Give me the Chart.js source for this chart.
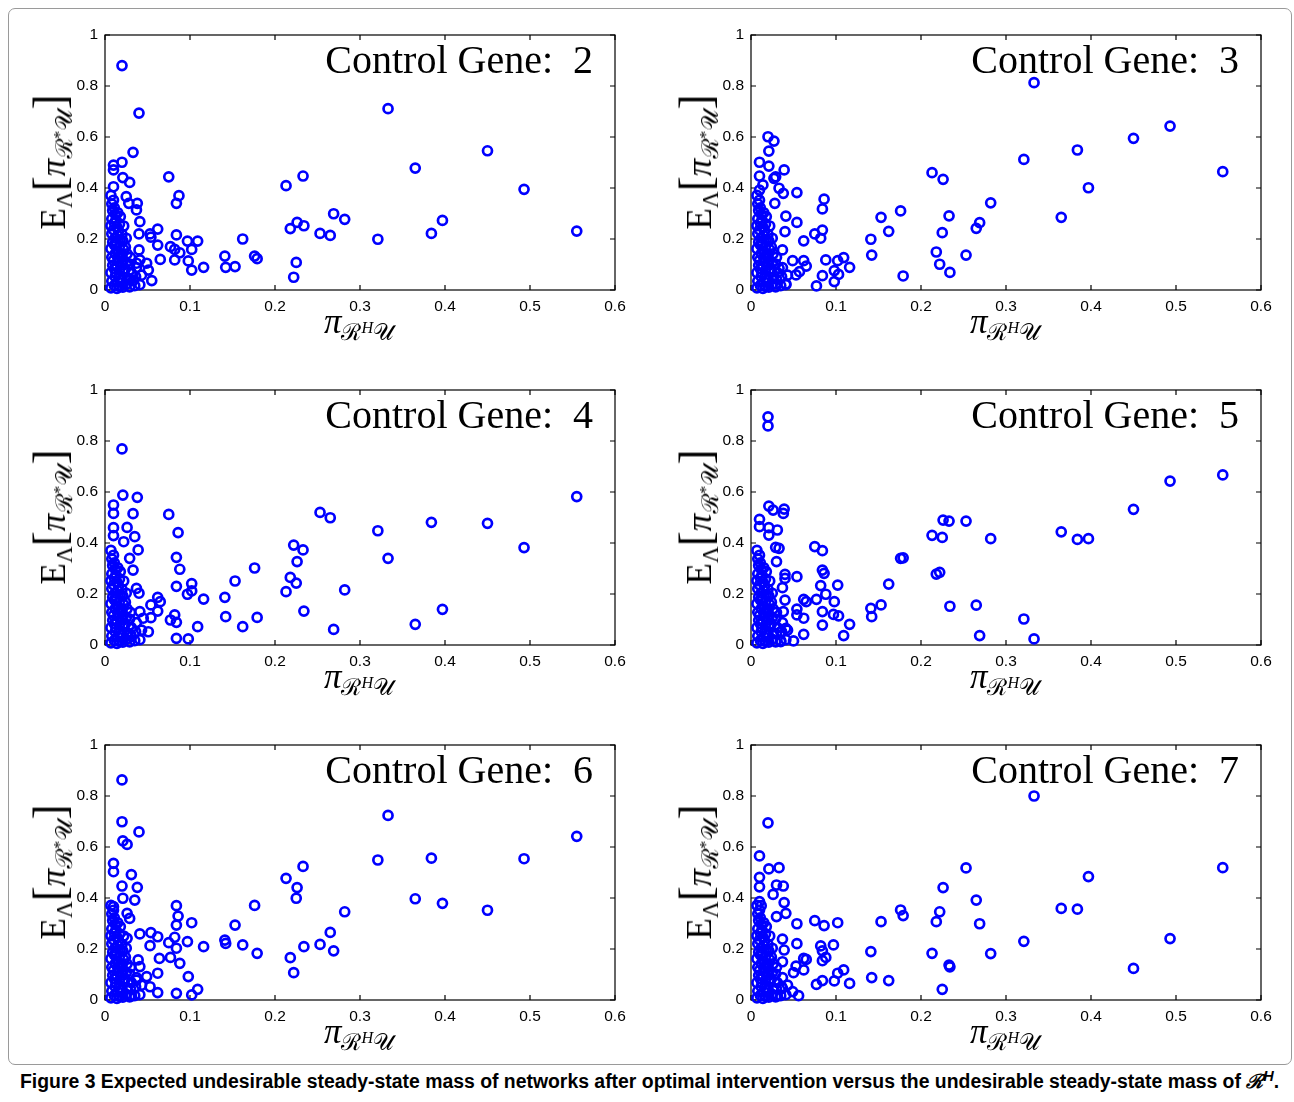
<!DOCTYPE html>
<html>
<head>
<meta charset="utf-8">
<script src="https://cdn.jsdelivr.net/npm/chart.js@4.4.0/dist/chart.umd.min.js"></script>
<style>
  body { margin: 0; background: #fff; width: 1294px; height: 1102px; position: relative; overflow: hidden; }
  .frame { position: absolute; left: 8px; top: 8px; width: 1282px; height: 1055px; border: 1px solid #9a9a9a; border-radius: 7px; }
  canvas { position: absolute; }
  .ttl { position: absolute; font-family: "Liberation Serif", serif; font-size: 40px; line-height: 40px; text-align: right; color: #000; white-space: pre; }
  .ylab, .xlab { position: absolute; font-family: "Liberation Serif", "DejaVu Serif", serif; line-height: 44px; color: #000; white-space: nowrap; }
  .ylab { font-size: 35px; transform: translate(-50%, -50%) rotate(-90deg); }
  .xlab { font-size: 35px; transform: translate(-50%, 0); }
  .sb { font-size: 0.66em; position: relative; top: 0.3em; }
  .sp { font-size: 0.7em; position: relative; top: -0.45em; }
  .br { font-size: 1.3em; }
  .cap { position: absolute; left: 20px; top: 1067px; font-family: "Liberation Sans", Arial, sans-serif; font-weight: bold; font-size: 19.4px; color: #000; white-space: nowrap; }
</style>
</head>
<body>
<div class="frame"></div>
<div class="cap">Figure 3 Expected undesirable steady-state mass of networks after optimal intervention versus the undesirable steady-state mass of <i>ℛ<span class="sp" style="font-size:0.75em">H</span></i>.</div>
<script>
// tick labels
const xTickLabels = ['0', '0.1', '0.2', '0.3', '0.4', '0.5', '0.6'];
const yTickLabels = ['0', '0.2', '0.4', '0.6', '0.8', '1'];
const genes = [2, 3, 4, 5, 6, 7];

// networks with larger original mass (same x in every panel)
const farX = [0.555, 0.493, 0.450, 0.397, 0.384, 0.365, 0.333, 0.321, 0.282, 0.269, 0.265, 0.253,
  0.233, 0.234, 0.226, 0.225, 0.222, 0.218, 0.213, 0.179, 0.176, 0.162, 0.153, 0.141, 0.142];
const far2 = [0.231, 0.395, 0.546, 0.273, 0.222, 0.478, 0.711, 0.199, 0.277, 0.299, 0.214, 0.222,
  0.447, 0.252, 0.265, 0.108, 0.050, 0.241, 0.409, 0.123, 0.133, 0.200, 0.092, 0.133, 0.089];
const far3 = [0.464, 0.643, 0.595, 0.401, 0.549, 0.285, 0.813, 0.512, 0.342, 0.264, 0.242, 0.137,
  0.291, 0.069, 0.434, 0.225, 0.101, 0.149, 0.460, 0.055, 0.310, 0.230, 0.285, 0.199, 0.137];
const far4 = [0.582, 0.382, 0.477, 0.140, 0.481, 0.081, 0.340, 0.448, 0.216, 0.061, 0.499, 0.520,
  0.373, 0.133, 0.327, 0.243, 0.392, 0.265, 0.209, 0.108, 0.302, 0.072, 0.251, 0.187, 0.111];
const far5 = [0.667, 0.643, 0.532, 0.417, 0.414, 0.444, 0.024, 0.102, 0.417, 0.037, 0.156, 0.486,
  0.486, 0.152, 0.490, 0.422, 0.285, 0.278, 0.430, 0.342, 0.340, 0.239, 0.157, 0.144, 0.111];
const far6 = [0.642, 0.554, 0.352, 0.379, 0.556, 0.397, 0.724, 0.549, 0.346, 0.193, 0.265, 0.218,
  0.524, 0.209, 0.441, 0.399, 0.107, 0.166, 0.477, 0.183, 0.371, 0.216, 0.294, 0.235, 0.222];
const far7 = [0.519, 0.241, 0.124, 0.484, 0.356, 0.359, 0.800, 0.230, 0.182, 0.299, 0.392, 0.518,
  0.137, 0.130, 0.441, 0.042, 0.346, 0.307, 0.183, 0.331, 0.353, 0.076, 0.307, 0.190, 0.088];

// dense core of networks with small mass (x, y)
const coreX = [0.007, 0.008, 0.007, 0.009, 0.008, 0.007, 0.009, 0.008, 0.007, 0.008, 0.009, 0.008, 0.007,
  0.011, 0.012, 0.011, 0.010, 0.012, 0.011, 0.012, 0.010, 0.011, 0.012, 0.011, 0.010,
  0.014, 0.015, 0.013, 0.014, 0.015, 0.014, 0.013, 0.015, 0.014, 0.013, 0.015,
  0.017, 0.018, 0.017, 0.016, 0.018, 0.017, 0.018, 0.016, 0.017, 0.018,
  0.021, 0.020, 0.022, 0.021, 0.020, 0.022, 0.021, 0.020, 0.022,
  0.025, 0.026, 0.024, 0.025, 0.026, 0.024, 0.025,
  0.029, 0.030, 0.031, 0.029, 0.030,
  0.035, 0.036, 0.037,
  0.041, 0.043];
const coreY = [0.008, 0.035, 0.068, 0.097, 0.128, 0.162, 0.188, 0.221, 0.252, 0.279, 0.312, 0.338, 0.371,
  0.018, 0.052, 0.083, 0.116, 0.143, 0.177, 0.204, 0.236, 0.263, 0.297, 0.322, 0.352,
  0.006, 0.033, 0.066, 0.094, 0.127, 0.153, 0.186, 0.213, 0.247, 0.274, 0.303,
  0.014, 0.047, 0.078, 0.112, 0.138, 0.171, 0.198, 0.232, 0.258, 0.288,
  0.011, 0.041, 0.072, 0.098, 0.131, 0.158, 0.193, 0.218, 0.251,
  0.022, 0.048, 0.083, 0.107, 0.142, 0.168, 0.203,
  0.012, 0.043, 0.068, 0.102, 0.128,
  0.017, 0.052, 0.088,
  0.021, 0.058];

// remaining small-mass networks, per control gene: [x, y]
const near2 = [[0.020,0.880],[0.040,0.694],[0.033,0.540],[0.020,0.501],[0.010,0.490],[0.010,0.471],[0.021,0.441],
  [0.029,0.422],[0.010,0.405],[0.075,0.444],[0.087,0.370],[0.084,0.340],[0.038,0.340],[0.037,0.314],[0.041,0.268],
  [0.040,0.220],[0.062,0.239],[0.053,0.220],[0.054,0.207],[0.084,0.216],[0.097,0.192],[0.109,0.192],[0.102,0.159],
  [0.062,0.176],[0.077,0.170],[0.082,0.159],[0.088,0.146],[0.082,0.118],[0.098,0.114],[0.065,0.120],[0.116,0.089],
  [0.102,0.078],[0.055,0.037],[0.051,0.078],[0.040,0.157],[0.037,0.105],[0.033,0.037],[0.029,0.039],[0.025,0.366],
  [0.028,0.340],[0.041,0.118],[0.049,0.105]];
const near3 = [[0.020,0.601],[0.027,0.584],[0.021,0.545],[0.010,0.501],[0.021,0.486],[0.039,0.471],[0.010,0.447],
  [0.029,0.444],[0.027,0.438],[0.014,0.412],[0.033,0.399],[0.038,0.379],[0.054,0.382],[0.010,0.392],[0.028,0.340],
  [0.086,0.356],[0.084,0.318],[0.041,0.290],[0.054,0.265],[0.040,0.229],[0.084,0.235],[0.075,0.220],[0.082,0.203],
  [0.062,0.193],[0.037,0.157],[0.062,0.115],[0.065,0.094],[0.049,0.115],[0.088,0.118],[0.102,0.115],[0.109,0.127],
  [0.116,0.089],[0.098,0.076],[0.103,0.061],[0.084,0.056],[0.053,0.059],[0.098,0.033],[0.077,0.016],[0.041,0.024],
  [0.029,0.024],[0.057,0.072],[0.033,0.085]];
const near4 = [[0.020,0.769],[0.021,0.588],[0.038,0.579],[0.010,0.549],[0.010,0.516],[0.033,0.515],[0.075,0.512],
  [0.010,0.460],[0.026,0.461],[0.010,0.429],[0.035,0.425],[0.086,0.441],[0.022,0.405],[0.039,0.373],[0.084,0.344],
  [0.029,0.340],[0.088,0.297],[0.033,0.294],[0.084,0.230],[0.102,0.241],[0.102,0.212],[0.097,0.199],[0.037,0.222],
  [0.040,0.203],[0.062,0.187],[0.065,0.170],[0.116,0.180],[0.054,0.157],[0.062,0.133],[0.041,0.131],[0.082,0.118],
  [0.077,0.098],[0.084,0.089],[0.054,0.107],[0.051,0.052],[0.109,0.072],[0.084,0.026],[0.098,0.024],[0.031,0.033],
  [0.045,0.105]];
const near5 = [[0.020,0.895],[0.020,0.859],[0.021,0.545],[0.026,0.529],[0.039,0.533],[0.038,0.516],[0.010,0.493],
  [0.010,0.464],[0.021,0.460],[0.031,0.451],[0.021,0.431],[0.029,0.383],[0.033,0.379],[0.075,0.386],[0.084,0.370],
  [0.030,0.327],[0.084,0.294],[0.086,0.281],[0.040,0.277],[0.054,0.268],[0.040,0.261],[0.082,0.233],[0.102,0.235],
  [0.037,0.225],[0.088,0.199],[0.062,0.179],[0.065,0.170],[0.077,0.179],[0.098,0.170],[0.040,0.176],[0.054,0.141],
  [0.054,0.118],[0.062,0.105],[0.038,0.131],[0.084,0.131],[0.097,0.120],[0.103,0.114],[0.116,0.081],[0.084,0.078],
  [0.109,0.037],[0.062,0.042],[0.050,0.016],[0.035,0.013],[0.041,0.065],[0.035,0.052]];
const near6 = [[0.020,0.863],[0.020,0.699],[0.040,0.659],[0.021,0.624],[0.026,0.610],[0.010,0.536],[0.010,0.503],
  [0.031,0.492],[0.020,0.447],[0.038,0.442],[0.021,0.399],[0.035,0.392],[0.010,0.366],[0.084,0.370],[0.026,0.340],
  [0.029,0.320],[0.086,0.329],[0.084,0.294],[0.102,0.303],[0.041,0.259],[0.054,0.264],[0.062,0.248],[0.026,0.242],
  [0.082,0.246],[0.075,0.225],[0.097,0.229],[0.084,0.203],[0.116,0.209],[0.053,0.213],[0.064,0.163],[0.077,0.167],
  [0.088,0.144],[0.062,0.105],[0.098,0.092],[0.049,0.092],[0.053,0.052],[0.062,0.029],[0.084,0.026],[0.102,0.020],
  [0.109,0.042],[0.031,0.016],[0.039,0.157],[0.041,0.131],[0.037,0.078]];
const near7 = [[0.020,0.695],[0.010,0.565],[0.021,0.514],[0.033,0.519],[0.010,0.481],[0.010,0.444],[0.030,0.451],
  [0.038,0.447],[0.026,0.414],[0.010,0.386],[0.012,0.370],[0.039,0.382],[0.041,0.340],[0.030,0.327],[0.054,0.299],
  [0.075,0.311],[0.086,0.292],[0.102,0.303],[0.037,0.239],[0.054,0.221],[0.082,0.212],[0.097,0.216],[0.084,0.193],
  [0.039,0.196],[0.088,0.167],[0.062,0.163],[0.065,0.159],[0.084,0.154],[0.053,0.133],[0.062,0.118],[0.050,0.107],
  [0.109,0.118],[0.102,0.105],[0.077,0.061],[0.084,0.076],[0.098,0.075],[0.116,0.065],[0.049,0.033],[0.056,0.017],
  [0.037,0.046],[0.031,0.016],[0.037,0.150]];

const farY = [far2, far3, far4, far5, far6, far7];
const nearPts = [near2, near3, near4, near5, near6, near7];

// layout of the six panels (plot area corners)
const plotW = 510, plotH = 255, padL = 55, padT = 18, padR = 25, padB = 35;
const origins = [[105, 35], [751, 35], [105, 390], [751, 390], [105, 745], [751, 745]];

// box and inward ticks, matlab style
const boxTicks = {
  id: 'boxTicks',
  beforeDatasetsDraw(chart) {
    const { ctx, chartArea: a, scales: { x, y } } = chart;
    ctx.save();
    ctx.strokeStyle = '#000';
    ctx.lineWidth = 1.2;
    ctx.strokeRect(a.left, a.top, a.right - a.left, a.bottom - a.top);
    ctx.beginPath();
    x.ticks.forEach(t => {
      const px = x.getPixelForValue(t.value);
      ctx.moveTo(px, a.bottom); ctx.lineTo(px, a.bottom - 5);
      ctx.moveTo(px, a.top); ctx.lineTo(px, a.top + 5);
    });
    y.ticks.forEach(t => {
      const py = y.getPixelForValue(t.value);
      ctx.moveTo(a.left, py); ctx.lineTo(a.left + 5, py);
      ctx.moveTo(a.right, py); ctx.lineTo(a.right - 5, py);
    });
    ctx.stroke();
    ctx.restore();
  }
};

const tickFont = { family: '"Liberation Sans", Arial, sans-serif', size: 15.5 };

genes.forEach((gene, i) => {
  const [ox, oy] = origins[i];
  const cv = document.createElement('canvas');
  cv.width = padL + plotW + padR;
  cv.height = padT + plotH + padB;
  cv.style.left = (ox - padL) + 'px';
  cv.style.top = (oy - padT) + 'px';
  document.body.appendChild(cv);

  const pts = farX.map((x, k) => ({ x: x, y: farY[i][k] }));
  nearPts[i].forEach(p => pts.push({ x: p[0], y: p[1] }));
  coreX.forEach((x, k) => pts.push({ x: x, y: coreY[k] }));

  new Chart(cv, {
    type: 'scatter',
    data: {
      datasets: [{
        label: 'Control Gene: ' + gene,
        data: pts,
        pointStyle: 'circle',
        pointRadius: 4.5,
        pointBorderWidth: 2.7,
        borderColor: '#0000ff',
        backgroundColor: 'rgba(0,0,0,0)',
        clip: false
      }]
    },
    options: {
      responsive: false,
      animation: false,
      layout: { padding: { top: padT, right: padR, left: 0, bottom: 0 } },
      plugins: { legend: { display: false }, tooltip: { enabled: false } },
      scales: {
        x: {
          type: 'linear', min: 0, max: 0.6,
          grid: { display: false, drawTicks: false },
          border: { display: false },
          ticks: { stepSize: 0.1, padding: 7, color: '#000', font: tickFont, maxRotation: 0,
            callback: (v, idx) => xTickLabels[idx] },
          afterFit: s => { s.height = padB; }
        },
        y: {
          type: 'linear', min: 0, max: 1,
          grid: { display: false, drawTicks: false },
          border: { display: false },
          ticks: { stepSize: 0.2, padding: 7, color: '#000', font: tickFont,
            callback: (v, idx) => yTickLabels[idx] },
          afterFit: s => { s.width = padL; }
        }
      }
    },
    plugins: [boxTicks]
  });

  const t = document.createElement('div');
  t.className = 'ttl';
  t.style.left = ox + 'px';
  t.style.width = (plotW - 22) + 'px';
  t.style.top = (oy + 5) + 'px';
  t.textContent = 'Control Gene:  ' + gene;
  document.body.appendChild(t);

  const yl = document.createElement('div');
  yl.className = 'ylab';
  yl.style.left = (ox - 50) + 'px';
  yl.style.top = (oy + 127) + 'px';
  yl.innerHTML = 'E<span class="sb">Λ</span><span class="br">[</span><i>π</i><span class="sb">ℛ<span class="sp">*</span>𝒰</span><span class="br">]</span>';
  document.body.appendChild(yl);

  const xl = document.createElement('div');
  xl.className = 'xlab';
  xl.style.left = (ox + 254) + 'px';
  xl.style.top = (oy + 265) + 'px';
  xl.innerHTML = '<i>π</i><span class="sb">ℛ<span class="sp"><i>H</i></span>𝒰</span>';
  document.body.appendChild(xl);
});
</script>
</body>
</html>
